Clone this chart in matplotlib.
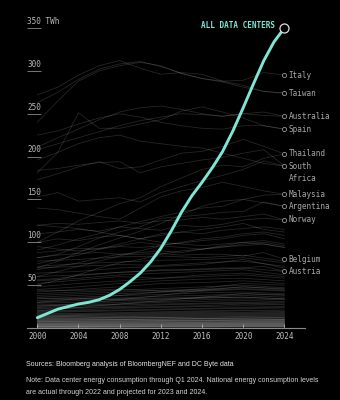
import numpy as np
import matplotlib
matplotlib.use("Agg")
import matplotlib.pyplot as plt

# all data centers, yearly (TWh)
dc_years = list(range(2000, 2025))
dc_twh = [12, 17, 22, 25, 28, 30, 33, 38, 45, 54, 64, 77, 93, 113, 135,
          154, 170, 187, 206, 230, 257, 285, 312, 334, 350]

# country lines every 2 years
years2 = list(range(2000, 2025, 2))
# low bundle every 4 years
years4 = list(range(2000, 2025, 4))

labeled = {
    "Italy":        [272, 281, 295, 306, 312, 303, 296, 298, 296, 288, 289, 298, 295],
    "Taiwan":       [240, 265, 288, 300, 306, 310, 306, 297, 291, 288, 283, 276, 274],
    "Australia":    [211, 222, 232, 243, 252, 257, 259, 255, 250, 247, 250, 248, 247],
    "Spain":        [181, 205, 251, 233, 233, 238, 243, 253, 258, 252, 245, 236, 232],
    "Thailand":     [100, 112, 125, 135, 145, 152, 165, 175, 185, 190, 188, 198, 203],
    "South\nAfrica": [196, 205, 215, 222, 225, 218, 215, 212, 210, 204, 198, 192, 189],
    "Malaysia":     [70, 78, 88, 97, 105, 113, 122, 132, 142, 148, 150, 155, 156],
    "Argentina":    [82, 86, 95, 105, 112, 118, 128, 130, 132, 135, 136, 147, 142],
    "Norway":       [120, 122, 121, 123, 125, 122, 125, 126, 129, 127, 130, 133, 126],
    "Belgium":      [82, 85, 87, 88, 86, 86, 87, 85, 86, 86, 84, 88, 80],
    "Austria":      [56, 58, 61, 63, 65, 66, 68, 68, 69, 70, 70, 72, 66],
}

upper_lines = [
    [263, 275, 290, 302, 308, 311, 305, 297, 291, 287, 281, 276, 274],
    [225, 230, 238, 245, 250, 246, 240, 236, 233, 232, 236, 236, 232],
    [173, 180, 188, 194, 186, 188, 196, 204, 206, 212, 220, 212, 203],
    [184, 186, 190, 193, 194, 181, 188, 192, 196, 199, 204, 208, 189],
    [208, 215, 222, 229, 236, 242, 246, 250, 249, 247, 250, 252, 247],
    [153, 158, 148, 150, 152, 147, 158, 165, 172, 178, 185, 195, 189],
    [140, 138, 134, 130, 127, 140, 153, 160, 164, 170, 165, 160, 156],
]

mid_lines = [
    [91, 97, 104, 110, 118, 124, 130, 135, 140, 142, 150, 146, 142],
    [110, 112, 115, 113, 118, 116, 114, 120, 118, 121, 126, 128, 126],
    [100, 104, 102, 106, 108, 104, 110, 112, 115, 118, 122, 115, 112],
    [75, 80, 85, 92, 98, 104, 108, 112, 110, 114, 116, 118, 115],
    [95, 92, 90, 93, 96, 100, 97, 99, 102, 104, 108, 110, 104],
    [60, 66, 72, 78, 84, 90, 96, 100, 104, 106, 110, 112, 108],
    [88, 90, 93, 92, 95, 94, 96, 94, 92, 95, 96, 98, 94],
    [68, 72, 76, 82, 86, 88, 90, 88, 92, 94, 98, 100, 96],
    [120, 118, 116, 112, 108, 104, 100, 98, 96, 98, 100, 98, 94],
    [50, 56, 62, 70, 76, 80, 86, 90, 92, 96, 100, 102, 98],
]

low_lines = [
    [78, 80, 83, 84, 82, 85, 78], [72, 75, 77, 79, 80, 82, 76],
    [70, 72, 74, 73, 76, 78, 72], [64, 66, 70, 72, 74, 80, 70],
    [60, 62, 65, 67, 68, 70, 66], [55, 58, 62, 64, 66, 68, 62],
    [52, 56, 60, 58, 62, 64, 60], [48, 52, 55, 58, 60, 62, 58],
    [45, 48, 52, 55, 57, 58, 55], [42, 45, 48, 52, 53, 55, 52],
    [40, 42, 44, 46, 48, 50, 47], [38, 40, 42, 44, 45, 48, 45],
    [36, 38, 40, 42, 43, 45, 43], [34, 36, 38, 39, 41, 42, 40],
    [32, 34, 35, 37, 38, 40, 38], [30, 32, 34, 35, 36, 38, 36],
    [29, 30, 32, 33, 35, 36, 34], [27, 28, 30, 31, 33, 34, 33],
    [26, 27, 28, 30, 31, 32, 31], [24, 26, 27, 28, 29, 30, 30],
    [23, 24, 25, 27, 28, 29, 28], [22, 23, 24, 25, 26, 28, 27],
    [20, 21, 23, 24, 25, 26, 25], [19, 20, 21, 22, 23, 24, 24],
    [18, 19, 20, 21, 22, 23, 22], [30, 34, 38, 42, 46, 52, 50],
    [25, 28, 33, 38, 44, 48, 46], [20, 24, 28, 32, 36, 40, 39],
    [44, 44, 45, 43, 44, 46, 44], [35, 34, 33, 34, 35, 36, 34],
]

vlow_lines = [
    [17, 17, 18, 19, 20, 21, 20], [16, 16, 17, 18, 19, 20, 19],
    [15, 15, 16, 17, 18, 18, 18], [14, 15, 15, 16, 17, 17, 17],
    [13, 14, 14, 15, 16, 16, 16], [12, 13, 13, 14, 15, 15, 15],
    [12, 12, 13, 13, 14, 14, 14], [11, 11, 12, 12, 13, 13, 13],
    [10, 11, 11, 12, 12, 13, 12], [10, 10, 10, 11, 11, 12, 12],
    [9, 9, 10, 10, 11, 11, 11], [9, 9, 9, 10, 10, 10, 10],
    [8, 8, 9, 9, 9, 10, 10], [8, 8, 8, 9, 9, 9, 9],
    [7, 7, 8, 8, 8, 9, 9], [7, 7, 7, 8, 8, 8, 8],
    [6, 6, 7, 7, 7, 8, 8], [6, 6, 6, 7, 7, 7, 7],
    [5, 5, 6, 6, 6, 7, 7], [5, 5, 5, 6, 6, 6, 6],
    [5, 5, 5, 5, 5, 6, 6], [4, 4, 5, 5, 5, 5, 5],
    [4, 4, 4, 5, 5, 5, 5], [4, 4, 4, 4, 4, 5, 5],
    [3, 3, 4, 4, 4, 4, 4], [3, 3, 3, 4, 4, 4, 4],
    [3, 3, 3, 3, 3, 4, 4], [2, 2, 3, 3, 3, 3, 3],
    [2, 2, 2, 3, 3, 3, 3], [2, 2, 2, 2, 2, 3, 3],
    [2, 2, 2, 2, 2, 2, 2], [1, 1, 2, 2, 2, 2, 2],
    [1, 1, 1, 2, 2, 2, 2], [1, 1, 1, 1, 1, 2, 2],
    [1, 1, 1, 1, 1, 1, 1], [14, 13, 12, 12, 11, 11, 10],
    [11, 10, 10, 9, 9, 8, 8], [8, 7, 7, 7, 6, 6, 6],
]

yticks = [50, 100, 150, 200, 250, 300, 350]
ytick_labels = ["50", "100", "150", "200", "250", "300", "350 TWh"]
xticks = [2000, 2004, 2008, 2012, 2016, 2020, 2024]

TEAL = "#7fe5d4"
MONO = "DejaVu Sans Mono"

fig = plt.figure(figsize=(3.4, 4.0), dpi=100, facecolor="black")
ax = fig.add_axes([27 / 340, 0.18, 278 / 340, 0.75], facecolor="black")

line_kw = dict(color="white", alpha=0.15, lw=0.6, zorder=2)
for s in vlow_lines + low_lines:
    ax.plot(years4, s, **line_kw)
for s in mid_lines + upper_lines:
    ax.plot(years2, s, **line_kw)
for name, s in labeled.items():
    ax.plot(years2, s, **line_kw)

# labeled end points
for name, s in labeled.items():
    two_line = "\n" in name
    ax.plot(years2[-1], s[-1], "o", ms=3, mfc="black", mec="#999999",
            mew=0.6, zorder=4, clip_on=False)
    ax.annotate(name, (years2[-1], s[-1]), xytext=(3, 3.2 if two_line else 0),
                textcoords="offset points", va="top" if two_line else "center",
                ha="left", fontsize=5.5, family=MONO, color="#a8a8a8",
                linespacing=1.5, annotation_clip=False)

ax.plot(dc_years, dc_twh, color=TEAL, lw=2.1, zorder=5, solid_capstyle="round")
ax.plot(dc_years[-1], dc_twh[-1], "o", ms=6.5, mfc="black", mec="#dddddd",
        mew=0.9, zorder=6, clip_on=False)
ax.annotate("ALL DATA CENTERS", (dc_years[-1], dc_twh[-1]), xytext=(-7, 1.5),
            textcoords="offset points", ha="right", va="center",
            fontsize=5.5, family=MONO, weight="bold", color=TEAL,
            annotation_clip=False)

ax.set_xlim(1999, 2026)
ax.set_ylim(0, 350)

for sp in ["top", "right", "left"]:
    ax.spines[sp].set_visible(False)
ax.spines["bottom"].set_color("#8a8a8a")
ax.spines["bottom"].set_linewidth(0.8)

ax.set_xticks(xticks)
ax.set_xticklabels([str(x) for x in xticks], family=MONO, fontsize=5.5)
ax.tick_params(axis="x", direction="in", length=3, width=0.6, color="#8a8a8a",
               labelcolor="#c0c0c0", pad=3)
ax.set_yticks([])

# y labels sit above short underlines
ax.hlines(yticks, 0, 0.05, transform=ax.get_yaxis_transform(),
          color="#8a8a8a", lw=0.6, clip_on=False)
for v, lab in zip(yticks, ytick_labels):
    ax.annotate(lab, (0, v), xycoords=ax.get_yaxis_transform(),
                xytext=(0, 1.5), textcoords="offset points",
                ha="left", va="bottom", fontsize=5.5, family=MONO,
                color="#b8b8b8", annotation_clip=False)

fig.text(26 / 340, 1 - 364 / 400, "Sources: Bloomberg analysis of BloombergNEF and DC Byte data",
         fontsize=5, family="Liberation Sans", color="#e6e6e6", va="center")
fig.text(26 / 340, 1 - 380 / 400,
         "Note: Data center energy consumption through Q1 2024. National energy consumption levels",
         fontsize=5, family="Liberation Sans", color="#d4d4d4", va="center")
fig.text(26 / 340, 1 - 392 / 400, "are actual through 2022 and projected for 2023 and 2024.",
         fontsize=5, family="Liberation Sans", color="#d4d4d4", va="center")

fig.savefig("out.png", dpi=100, facecolor="black")
